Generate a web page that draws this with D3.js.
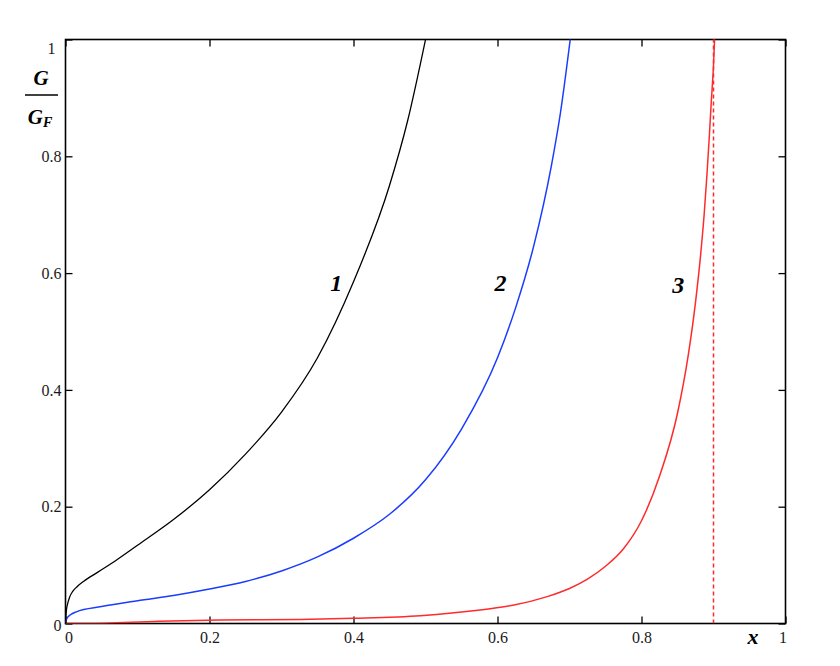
<!DOCTYPE html>
<html>
<head>
<meta charset="UTF-8">
<script src="https://d3js.org/d3.v7.min.js"></script>
<style>
  body { margin: 0; background: #fff; }
  .tick text { font-family: "Liberation Serif", "Times New Roman", serif; font-size: 16px; fill: #1a1a1a; }
  .tick line { stroke: #000; stroke-width: 1.3; }
  .lbl { font-family: "Liberation Serif", "Times New Roman", serif; font-weight: bold; font-style: italic; fill: #000; }
</style>
</head>
<body>
<svg width="840" height="666"></svg>
<script>
// curve 1 (black)
var x1 = [0, 0.001, 0.003, 0.006, 0.01, 0.016, 0.025, 0.045, 0.07, 0.1, 0.15, 0.2, 0.25, 0.3, 0.35, 0.4, 0.45, 0.475, 0.5];
var y1 = [0, 0.02, 0.034, 0.046, 0.055, 0.063, 0.072, 0.088, 0.108, 0.134, 0.178, 0.229, 0.29, 0.362, 0.455, 0.585, 0.75, 0.86, 1.0];
// curve 2 (blue)
var x2 = [0, 0.002, 0.007, 0.015, 0.05, 0.1, 0.15, 0.2, 0.25, 0.3, 0.35, 0.4, 0.45, 0.5, 0.55, 0.6, 0.625, 0.65, 0.675, 0.6875, 0.701];
var y2 = [0.002, 0.009, 0.015, 0.02, 0.029, 0.039, 0.048, 0.059, 0.072, 0.09, 0.114, 0.146, 0.187, 0.246, 0.333, 0.455, 0.54, 0.645, 0.785, 0.875, 1.0];
// curve 3 (red)
var x3 = [0, 0.03, 0.13, 0.215, 0.326, 0.4, 0.493, 0.576, 0.604, 0.623, 0.669, 0.7, 0.725, 0.75, 0.775, 0.8, 0.825, 0.85, 0.865, 0.875, 0.882, 0.887, 0.891, 0.894, 0.897, 0.9, 0.9015];
var y3 = [0, 0, 0.004, 0.006, 0.007, 0.009, 0.0134, 0.023, 0.0277, 0.0317, 0.046, 0.06, 0.076, 0.098, 0.128, 0.176, 0.252, 0.36, 0.46, 0.55, 0.63, 0.7, 0.77, 0.83, 0.895, 0.955, 1.0];
// asymptote of curve 3
var asymX = 0.9;
// curve labels
var curveNames = ["1", "2", "3"];
var labelX = [0.376, 0.604, 0.851];
var labelY = [0.578, 0.578, 0.575];
var ticks = [0, 0.2, 0.4, 0.6, 0.8, 1];

var svg = d3.select("svg");
var mLeft = 65.5, mRight = 785.5, mTop = 39.5, mBottom = 623.5;

var x = d3.scaleLinear().domain([0, 1]).range([mLeft, mRight]);
var y = d3.scaleLinear().domain([0, 1]).range([mBottom, mTop]);

svg.append("clipPath").attr("id", "clip")
   .append("rect")
   .attr("x", mLeft).attr("y", mTop - 1)
   .attr("width", mRight - mLeft).attr("height", mBottom - mTop + 1);

function fmt(d) { return d3.format("~g")(d); }

// axes with inside ticks
var gx = svg.append("g")
   .attr("transform", "translate(0," + mBottom + ")")
   .call(d3.axisBottom(x).tickValues(ticks).tickSize(-7).tickPadding(8).tickFormat(fmt));
gx.selectAll(".tick text").attr("dx", function(d) { return d == 0 ? 3 : (d == 1 ? -3 : 0); });

var gy = svg.append("g")
   .attr("transform", "translate(" + mLeft + ",0)")
   .call(d3.axisLeft(y).tickValues(ticks).tickSize(-7).tickPadding(4).tickFormat(fmt));
gy.selectAll(".tick text").attr("dy", function(d) { return d == 1 ? "0.85em" : (d == 0 ? "0.45em" : "0.32em"); })
   .attr("dx", function(d) { return d == 1 ? -6 : 0; });

svg.append("g")
   .attr("transform", "translate(0," + mTop + ")")
   .call(d3.axisTop(x).tickValues(ticks).tickSize(-7).tickFormat(""));

svg.append("g")
   .attr("transform", "translate(" + mRight + ",0)")
   .call(d3.axisRight(y).tickValues(ticks).tickSize(-7).tickFormat(""));

svg.selectAll(".domain").remove();

// frame
svg.append("rect")
   .attr("x", mLeft).attr("y", mTop)
   .attr("width", mRight - mLeft).attr("height", mBottom - mTop)
   .attr("fill", "none").attr("stroke", "#000").attr("stroke-width", 1.6);

var line = d3.line()
   .x(function(d) { return x(d[0]); })
   .y(function(d) { return y(d[1]); })
   .curve(d3.curveMonotoneX);

var plot = svg.append("g").attr("clip-path", "url(#clip)");

plot.append("path").datum(d3.zip(x3, y3))
   .attr("d", line).attr("fill", "none").attr("stroke", "#ff2a2a").attr("stroke-width", 1.5);
plot.append("path").datum(d3.zip(x2, y2))
   .attr("d", line).attr("fill", "none").attr("stroke", "#1a3cff").attr("stroke-width", 1.5);
plot.append("path").datum(d3.zip(x1, y1))
   .attr("d", line).attr("fill", "none").attr("stroke", "#000").attr("stroke-width", 1.3);

plot.append("line")
   .attr("x1", x(asymX)).attr("x2", x(asymX))
   .attr("y1", y(0)).attr("y2", y(1))
   .attr("stroke", "#ff2a2a").attr("stroke-width", 1.5)
   .attr("stroke-dasharray", "4,3");

// curve number labels
svg.selectAll(".cname")
   .data(curveNames)
   .enter()
   .append("text")
   .attr("class", "lbl")
   .attr("x", function(d, i) { return x(labelX[i]); })
   .attr("y", function(d, i) { return y(labelY[i]); })
   .attr("text-anchor", "middle")
   .attr("dominant-baseline", "middle")
   .attr("font-size", "24px")
   .text(function(d) { return d; });

// y axis title: G / G_F
svg.append("text").attr("class", "lbl")
   .attr("x", 41).attr("y", 85)
   .attr("text-anchor", "middle").attr("font-size", "21px")
   .text("G");
svg.append("line")
   .attr("x1", 25).attr("x2", 58).attr("y1", 95).attr("y2", 95)
   .attr("stroke", "#000").attr("stroke-width", 1.3);
var gf = svg.append("text").attr("class", "lbl")
   .attr("x", 40).attr("y", 124)
   .attr("text-anchor", "middle").attr("font-size", "21px");
gf.append("tspan").text("G");
gf.append("tspan").attr("font-size", "14px").attr("dy", 3).text("F");

// x axis title
svg.append("text").attr("class", "lbl")
   .attr("x", 753).attr("y", 644)
   .attr("text-anchor", "middle").attr("font-size", "22px")
   .text("x");
</script>
</body>
</html>
